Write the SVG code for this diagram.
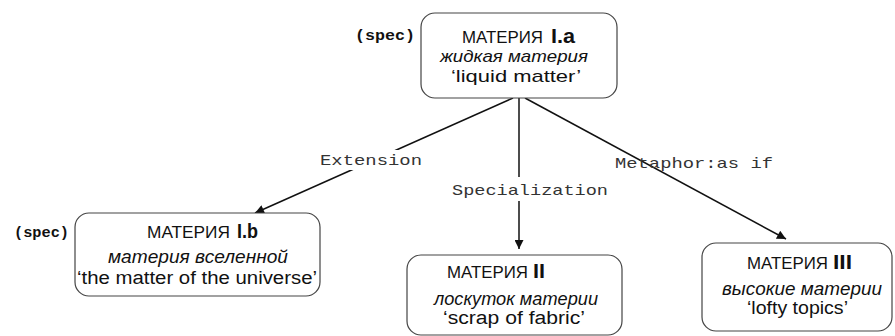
<svg xmlns="http://www.w3.org/2000/svg" width="895" height="336" viewBox="0 0 895 336">
<style>
.box{fill:#fff;stroke:#444;stroke-width:1.2}
.cap{font-family:"Liberation Sans",Arial,sans-serif;font-size:16px;fill:#111}
.num{font-family:"Liberation Sans",Arial,sans-serif;font-size:20px;font-weight:bold;fill:#111}
.it{font-family:"Liberation Sans",Arial,sans-serif;font-size:18px;font-style:italic;fill:#111}
.gl{font-family:"Liberation Sans",Arial,sans-serif;font-size:18px;fill:#111}
.sm{font-size:17px}
.spec{font-family:"Liberation Mono","Courier New",monospace;font-size:14px;font-weight:bold;fill:#111}
.lbl{font-family:"Liberation Mono","Courier New",monospace;font-size:15px;fill:#333}
.edge{stroke:#111;stroke-width:1.5;fill:none}
</style>
<defs>
<marker id="arr" viewBox="0 0 10 10" refX="10" refY="5" markerWidth="10" markerHeight="9" markerUnits="userSpaceOnUse" orient="auto">
<path d="M0,0 L10,5 L0,10 z" fill="#111"/>
</marker>
</defs>
<rect width="895" height="336" fill="#fff"/>
<g id="connectors">
<line class="edge" x1="513" y1="98" x2="255" y2="213" marker-end="url(#arr)"/>
<line class="edge" x1="519" y1="98" x2="519" y2="249" marker-end="url(#arr)"/>
<line class="edge" x1="525" y1="98" x2="786" y2="239" marker-end="url(#arr)"/>
<rect x="318" y="150" width="106" height="20" fill="#fff"/>
<text class="lbl" x="320" y="165" textLength="102" lengthAdjust="spacingAndGlyphs">Extension</text>
<rect x="450" y="177" width="160" height="24" fill="#fff"/>
<text class="lbl" x="452" y="195" textLength="156" lengthAdjust="spacingAndGlyphs">Specialization</text>
<text class="lbl" x="615" y="168" textLength="158" lengthAdjust="spacingAndGlyphs">Metaphor:as if</text>
</g>
<g id="node-Ia">
<rect class="box" x="421" y="13" width="196" height="85" rx="14"/>
<text class="spec" x="355" y="40" textLength="60" lengthAdjust="spacingAndGlyphs">(spec)</text>
<text class="cap" x="462" y="43" textLength="81" lengthAdjust="spacingAndGlyphs">МАТЕРИЯ</text>
<text class="num" x="551" y="43" textLength="24" lengthAdjust="spacingAndGlyphs">I.a</text>
<text class="it sm" x="440" y="62" textLength="148" lengthAdjust="spacingAndGlyphs">жидкая материя</text>
<text class="gl sm" x="451" y="82" textLength="130" lengthAdjust="spacingAndGlyphs">‘liquid matter’</text>
</g>
<g id="node-Ib">
<rect class="box" x="75" y="213" width="245" height="83" rx="14"/>
<text class="spec" x="14" y="237" textLength="55" lengthAdjust="spacingAndGlyphs">(spec)</text>
<text class="cap" x="147" y="238" textLength="83" lengthAdjust="spacingAndGlyphs">МАТЕРИЯ</text>
<text class="num" x="237" y="238" textLength="21" lengthAdjust="spacingAndGlyphs">I.b</text>
<text class="it" x="108" y="263" textLength="180" lengthAdjust="spacingAndGlyphs">материя вселенной</text>
<text class="gl" x="77" y="284" textLength="240" lengthAdjust="spacingAndGlyphs">‘the matter of the universe’</text>
</g>
<g id="node-II">
<rect class="box" x="407" y="255" width="215" height="80" rx="14"/>
<text class="cap" x="447" y="278" textLength="81" lengthAdjust="spacingAndGlyphs">МАТЕРИЯ</text>
<text class="num" x="533" y="278" textLength="12" lengthAdjust="spacingAndGlyphs">II</text>
<text class="it" x="434" y="305" textLength="164" lengthAdjust="spacingAndGlyphs">лоскуток материи</text>
<text class="gl" x="443" y="324" textLength="142" lengthAdjust="spacingAndGlyphs">‘scrap of fabric’</text>
</g>
<g id="node-III">
<rect class="box" x="702" y="243" width="190" height="88" rx="14"/>
<text class="cap" x="747" y="269" textLength="81" lengthAdjust="spacingAndGlyphs">МАТЕРИЯ</text>
<text class="num" x="833" y="269" textLength="19" lengthAdjust="spacingAndGlyphs">III</text>
<text class="it" x="722" y="295" textLength="160" lengthAdjust="spacingAndGlyphs">высокие материи</text>
<text class="gl" x="747" y="314" textLength="101" lengthAdjust="spacingAndGlyphs">‘lofty topics’</text>
</g>
</svg>
